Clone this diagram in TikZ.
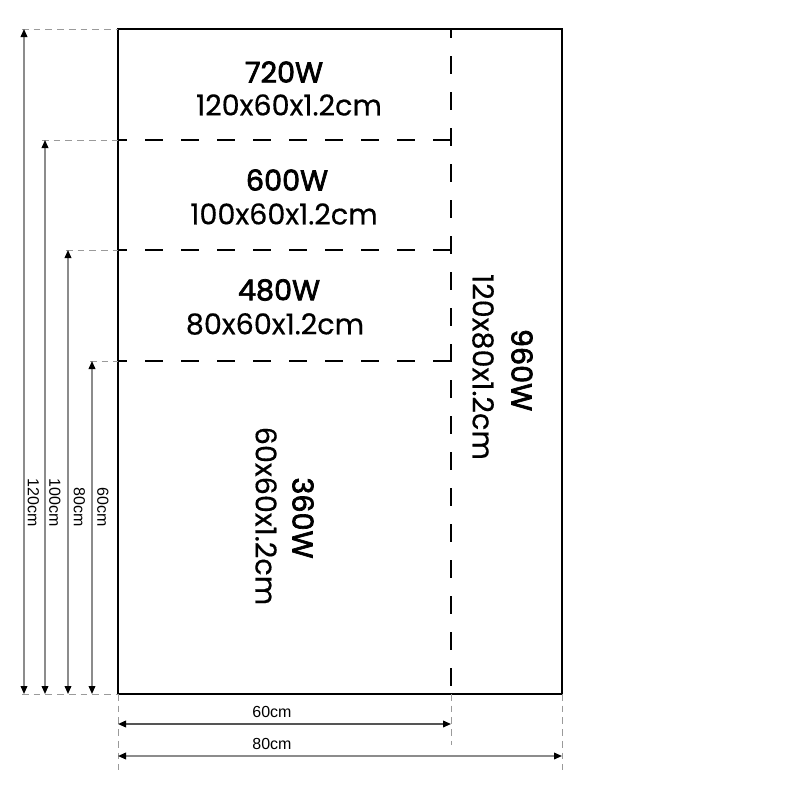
\documentclass[tikz,border=0pt]{standalone}
\usepackage{fontspec}
\setmainfont{Poppins}
\newfontfamily\titlefont[FakeBold=2.4]{Poppins}
\newfontfamily\sizefont[FakeBold=0.4]{Poppins}
\newfontfamily\dimfont{Liberation Sans}
\usetikzlibrary{arrows.meta}
\definecolor{dimgray}{HTML}{8C8C8C}
\definecolor{extgray}{HTML}{9A9A9A}
\definecolor{darkdim}{HTML}{555555}
\tikzset{
  outline/.style={draw=black,line width=1.5pt},
  divider/.style={draw=black,line width=1.1pt,dash pattern=on 13.5pt off 13.5pt,dash phase=6.75pt},
  extline/.style={draw=extgray,line width=0.75pt,dash pattern=on 5pt off 3.8pt},
  dimline/.style={draw=dimgray,line width=1.1pt,{Triangle[color=black,length=6pt,width=5pt]}-{Triangle[color=black,length=6pt,width=5pt]}},
  title/.style={font=\titlefont\fontsize{21.5}{24}\selectfont,text=black,inner sep=0pt},
  sizetxt/.style={font=\sizefont\fontsize{21.5}{24}\selectfont,text=black,inner sep=0pt},
  dimtxt/.style={font=\dimfont\fontsize{12}{13}\selectfont,text=black,inner sep=0pt},
}
\begin{document}
\begin{tikzpicture}[x=0.75pt,y=-0.75pt]
\useasboundingbox (0,0) rectangle (800,800);
% corner coordinates
\coordinate (TL) at (118,29);
\coordinate (TR) at (562,29);
\coordinate (BL) at (118,694);
\coordinate (BR) at (562,694);
\coordinate (VT) at (451,29);
\coordinate (VB) at (451,694);
\coordinate (L100) at (118,140);
\coordinate (L80) at (118,250);
\coordinate (L60) at (118,361);
\coordinate (R100) at (451,140);
\coordinate (R80) at (451,250);
\coordinate (R60) at (451,361);
% dividers
\draw[divider] (L100) -- (R100);
\draw[divider] (L80) -- (R80);
\draw[divider] (L60) -- (R60);
\draw[divider] (VT) -- (VB);
% outline
\draw[outline] (TL) rectangle (BR);
% extension lines left
\coordinate (e120t) at (22,29);
\coordinate (e100t) at (42,140);
\coordinate (e80t) at (66,250);
\coordinate (e60t) at (90,361);
\coordinate (ebot) at (22,694);
\draw[extline] (e120t) -- (TL);
\draw[extline] (e100t) -- (L100);
\draw[extline] (e80t) -- (L80);
\draw[extline] (e60t) -- (L60);
\draw[extline] (ebot) -- (BL);
% extension lines bottom
\coordinate (x0b) at (118,770);
\coordinate (x60b) at (451,745);
\coordinate (x80b) at (562,770);
\draw[extline] (BL) -- (x0b);
\draw[extline] (VB) -- (x60b);
\draw[extline] (BR) -- (x80b);
% vertical dimension lines
\coordinate (d120a) at (24,29);  \coordinate (d120b) at (24,694);
\coordinate (d100a) at (45,140); \coordinate (d100b) at (45,694);
\coordinate (d80a) at (68,250);  \coordinate (d80b) at (68,694);
\coordinate (d60a) at (92,361);  \coordinate (d60b) at (92,694);
\draw[dimline] (d120a) -- (d120b);
\draw[dimline] (d100a) -- (d100b);
\draw[dimline] (d80a) -- (d80b);
\draw[dimline] (d60a) -- (d60b);
\node[dimtxt,rotate=-90,anchor=east] (t120) at (33.5,527) {120cm};
\node[dimtxt,rotate=-90,anchor=east] (t100) at (55,527) {100cm};
\node[dimtxt,rotate=-90,anchor=east] (t80) at (79.5,527) {80cm};
\node[dimtxt,rotate=-90,anchor=east] (t60) at (103,527) {60cm};
% horizontal dimension lines
\coordinate (h60a) at (118,724); \coordinate (h60b) at (451,724);
\coordinate (h80a) at (118,756); \coordinate (h80b) at (562,756);
\draw[dimline,draw=darkdim] (h60a) -- (h60b);
\draw[dimline] (h80a) -- (h80b);
\node[dimtxt] (b60) at (272,712) {60cm};
\node[dimtxt] (b80) at (272,744) {80cm};
% labels
\node[title] (w720) at (284,72) {720W};
\node[sizetxt] (s720) at (289,105) {120x60x1.2cm};
\node[title] (w600) at (287,180) {600W};
\node[sizetxt] (s600) at (284,214) {100x60x1.2cm};
\node[title] (w480) at (279,290) {480W};
\node[sizetxt] (s480) at (275,324) {80x60x1.2cm};
\node[title,rotate=-90] (w360) at (303,518) {360W};
\node[sizetxt,rotate=-90] (s360) at (266,516) {60x60x1.2cm};
\node[title,rotate=-90] (w960) at (522,370) {960W};
\node[sizetxt,rotate=-90] (s960) at (483,367) {120x80x1.2cm};
\end{tikzpicture}
\end{document}
